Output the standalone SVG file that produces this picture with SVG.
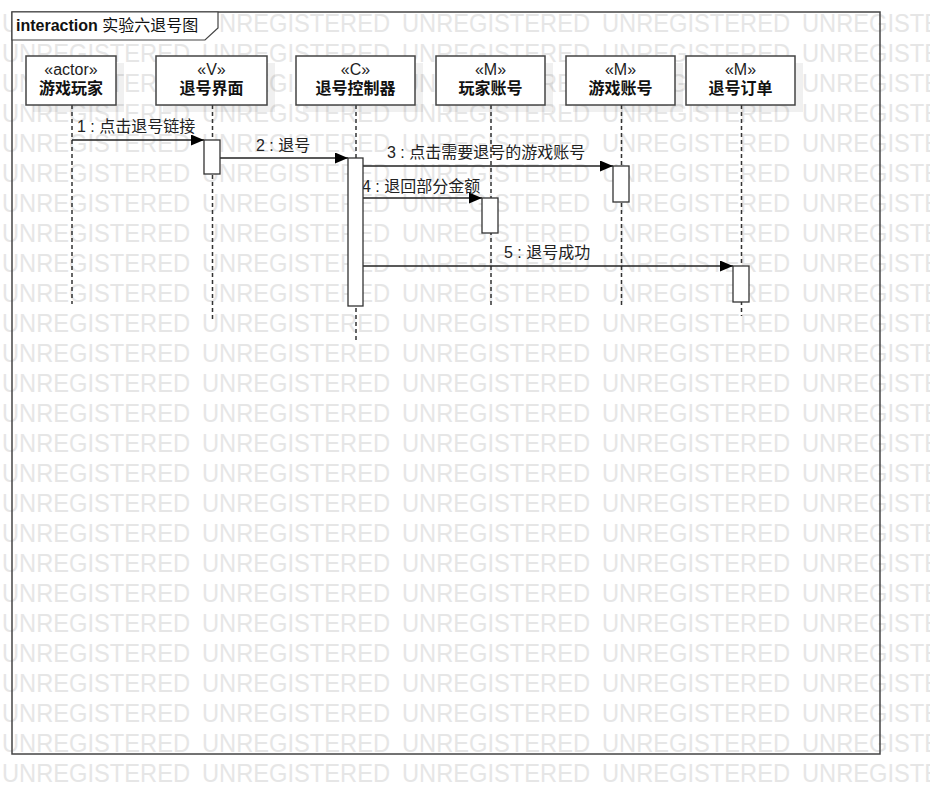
<svg xmlns="http://www.w3.org/2000/svg" xmlns:xlink="http://www.w3.org/1999/xlink" width="930" height="805" viewBox="0 0 930 805">
<style>
.wm{font-family:"Liberation Sans",Arial,sans-serif;font-size:26px;fill:#e6e6e6}
.box{fill:#fff;stroke:#444;stroke-width:1.5}
.shadow{fill:#000;fill-opacity:0.06}
.ster{font-family:"Liberation Sans","Noto Sans CJK SC",sans-serif;font-size:16px;fill:#222;text-anchor:middle}
.name{font-family:"Liberation Sans","Noto Sans CJK SC",sans-serif;font-size:16px;font-weight:bold;fill:#111;text-anchor:middle}
.life{stroke:#333;stroke-width:1.5;stroke-dasharray:4 3;fill:none}
.act{fill:#fff;stroke:#333;stroke-width:1.3}
.msg{stroke:#222;stroke-width:1.3;fill:none;marker-end:url(#arr)}
.lbl{font-family:"Liberation Sans","Noto Sans CJK SC",sans-serif;font-size:16px;fill:#222}
</style>
<defs>
<marker id="arr" markerUnits="userSpaceOnUse" markerWidth="14" markerHeight="12" refX="13" refY="5.5" orient="auto">
<path d="M0,0 L13,5.5 L0,11 z" fill="#000"/>
</marker>
<g id="wmrow">
<text class="wm" x="2" textLength="188" lengthAdjust="spacingAndGlyphs">UNREGISTERED</text>
<text class="wm" x="202" textLength="188" lengthAdjust="spacingAndGlyphs">UNREGISTERED</text>
<text class="wm" x="402" textLength="188" lengthAdjust="spacingAndGlyphs">UNREGISTERED</text>
<text class="wm" x="602" textLength="188" lengthAdjust="spacingAndGlyphs">UNREGISTERED</text>
<text class="wm" x="802" textLength="188" lengthAdjust="spacingAndGlyphs">UNREGISTERED</text>
</g>
</defs>
<rect width="930" height="805" fill="#fff"/>
<g id="watermark">
<use xlink:href="#wmrow" y="32"/><use xlink:href="#wmrow" y="62"/><use xlink:href="#wmrow" y="92"/><use xlink:href="#wmrow" y="122"/>
<use xlink:href="#wmrow" y="152"/><use xlink:href="#wmrow" y="182"/><use xlink:href="#wmrow" y="212"/><use xlink:href="#wmrow" y="242"/>
<use xlink:href="#wmrow" y="272"/><use xlink:href="#wmrow" y="302"/><use xlink:href="#wmrow" y="332"/><use xlink:href="#wmrow" y="362"/>
<use xlink:href="#wmrow" y="392"/><use xlink:href="#wmrow" y="422"/><use xlink:href="#wmrow" y="452"/><use xlink:href="#wmrow" y="482"/>
<use xlink:href="#wmrow" y="512"/><use xlink:href="#wmrow" y="542"/><use xlink:href="#wmrow" y="572"/><use xlink:href="#wmrow" y="602"/>
<use xlink:href="#wmrow" y="632"/><use xlink:href="#wmrow" y="662"/><use xlink:href="#wmrow" y="692"/><use xlink:href="#wmrow" y="722"/>
<use xlink:href="#wmrow" y="752"/><use xlink:href="#wmrow" y="782"/>
</g>
<g id="frame">
<rect x="12" y="12" width="868" height="742" fill="none" stroke="#444" stroke-width="1.5"/>
<polygon points="12,12 218,12 218,28 205,40 12,40" fill="#fff" stroke="#444" stroke-width="1.2"/>
<text x="16" y="31" font-family="Liberation Sans,Noto Sans CJK SC,sans-serif" font-size="16" fill="#111"><tspan font-weight="bold">interaction</tspan> 实验六退号图</text>
</g>
<g id="lifelines">
<line class="life" x1="72" y1="105" x2="72" y2="304"/>
<line class="life" x1="212.5" y1="105" x2="212.5" y2="320"/>
<line class="life" x1="356" y1="105" x2="356" y2="343"/>
<line class="life" x1="491" y1="105" x2="491" y2="305"/>
<line class="life" x1="621.5" y1="105" x2="621.5" y2="305"/>
<line class="life" x1="741.5" y1="105" x2="741.5" y2="316"/>
</g>
<g id="n1"><rect class="shadow" x="33" y="63" width="91" height="49"/><rect class="box" x="26" y="56" width="90" height="49"/><text class="ster" x="71" y="75">«actor»</text><text class="name" x="71" y="94">游戏玩家</text></g>
<g id="n2"><rect class="shadow" x="163" y="63" width="112" height="49"/><rect class="box" x="156" y="56" width="111" height="49"/><text class="ster" x="211.5" y="75">«V»</text><text class="name" x="211.5" y="94">退号界面</text></g>
<g id="n3"><rect class="shadow" x="303" y="63" width="120" height="49"/><rect class="box" x="296" y="56" width="119" height="49"/><text class="ster" x="355.5" y="75">«C»</text><text class="name" x="355.5" y="94">退号控制器</text></g>
<g id="n4"><rect class="shadow" x="443" y="63" width="110" height="49"/><rect class="box" x="436" y="56" width="109" height="49"/><text class="ster" x="490.5" y="75">«M»</text><text class="name" x="490.5" y="94">玩家账号</text></g>
<g id="n5"><rect class="shadow" x="573" y="63" width="110" height="49"/><rect class="box" x="566" y="56" width="109" height="49"/><text class="ster" x="620.5" y="75">«M»</text><text class="name" x="620.5" y="94">游戏账号</text></g>
<g id="n6"><rect class="shadow" x="693" y="63" width="110" height="49"/><rect class="box" x="686" y="56" width="109" height="49"/><text class="ster" x="740.5" y="75">«M»</text><text class="name" x="740.5" y="94">退号订单</text></g>
<g id="connectors">
<line class="msg" x1="72" y1="140" x2="204" y2="140"/>
<text class="lbl" x="77" y="132">1 : 点击退号链接</text>
<line class="msg" x1="220" y1="158" x2="348" y2="158"/>
<text class="lbl" x="256" y="151">2 : 退号</text>
<line class="msg" x1="363" y1="166" x2="613" y2="166"/>
<text class="lbl" x="387" y="158">3 : 点击需要退号的游戏账号</text>
<line class="msg" x1="363" y1="198" x2="482" y2="198"/>
<text class="lbl" x="362" y="192">4 : 退回部分金额</text>
<line class="msg" x1="363" y1="266" x2="733" y2="266"/>
<text class="lbl" x="504" y="258">5 : 退号成功</text>
</g>
<g id="activations">
<rect class="act" x="204" y="140" width="16" height="34"/>
<rect class="act" x="348" y="158" width="15" height="148"/>
<rect class="act" x="482" y="198" width="16" height="35"/>
<rect class="act" x="613" y="166" width="16" height="36"/>
<rect class="act" x="733" y="266" width="16" height="36"/>
</g>
</svg>
